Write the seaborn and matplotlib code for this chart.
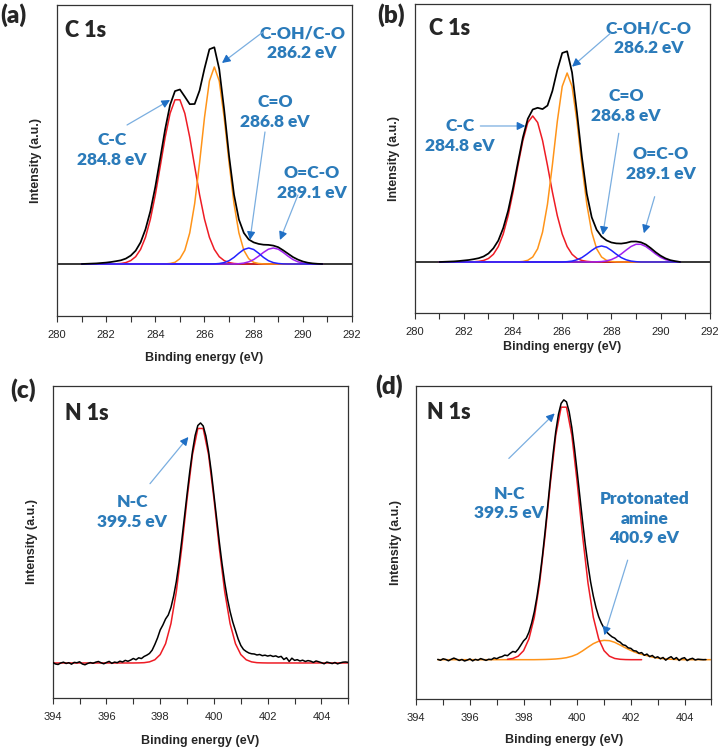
import numpy as np
import matplotlib
matplotlib.use("Agg")
import matplotlib.pyplot as plt
from matplotlib.ticker import MultipleLocator
import seaborn as sns

# ---------------- data (intensity in a.u., baseline = 0) ----------------
# C 1s panels: components and envelope on a 0.2 eV grid starting at 281.0 eV
c1s_start, c1s_step = 281.0, 0.2

# (a)
a_envelope = [0, 0.2, 0.4, 0.6, 1.0, 1.4, 2.0, 2.8, 3.7, 5.4,
              8.4, 13.3, 21.6, 34.7, 52.9, 77.2, 105.7, 134.8, 159.1, 172.9,
              174.5, 167.3, 159.8, 160, 173.5, 195.4, 214.7, 216.7, 194.8, 154.3,
              108, 69.4, 44.4, 31.1, 24.5, 21.6, 20.1, 19.3, 19.1, 18.4,
              16.8, 13.7, 10.3, 6.9, 4.4, 2.5, 1.3, 0.6, 0.2, 0]
a_cc = [0, 0, 0, 0, 0, 0, 0, 0.2, 0.5, 1.4,
        3.4, 7.3, 14.6, 26.7, 44.9, 69.2, 97.7, 126.7, 150.6, 164.2,
        164.2, 150.6, 126.7, 97.7, 69.2, 44.9, 26.7, 14.6, 7.3, 3.4,
        1.4, 0.5, 0.2, 0, 0, 0, 0, 0, 0, 0,
        0, 0, 0, 0, 0, 0, 0, 0, 0, 0]
a_coh = [0, 0, 0, 0, 0, 0, 0, 0, 0, 0,
         0, 0, 0, 0, 0, 0, 0, 0.1, 0.5, 1.7,
         5.3, 13.7, 31.1, 60.3, 101.3, 146.5, 183, 197, 183, 146.5,
         101.3, 60.3, 31.1, 13.7, 5.3, 1.7, 0.5, 0.1, 0, 0,
         0, 0, 0, 0, 0, 0, 0, 0, 0, 0]
a_co = [0, 0, 0, 0, 0, 0, 0, 0, 0, 0,
        0, 0, 0, 0, 0, 0, 0, 0, 0, 0,
        0, 0, 0, 0, 0, 0, 0, 0.1, 0.5, 1.4,
        3.3, 6.6, 10.8, 14.5, 16, 14.5, 10.8, 6.6, 3.3, 1.4,
        0.5, 0.1, 0, 0, 0, 0, 0, 0, 0, 0]
a_oco = [0, 0, 0, 0, 0, 0, 0, 0, 0, 0,
         0, 0, 0, 0, 0, 0, 0, 0, 0, 0,
         0, 0, 0, 0, 0, 0, 0, 0, 0, 0,
         0, 0, 0.3, 0.9, 2.2, 4.4, 7.8, 11.6, 14.8, 16,
         14.8, 11.6, 7.8, 4.4, 2.2, 0.9, 0.3, 0, 0, 0]

# (b)
b_envelope = [0, 0.2, 0.4, 0.6, 1.0, 1.5, 2.0, 2.8, 3.8, 5.5,
              8.5, 13.7, 21.4, 33.9, 51.3, 74.0, 99.7, 124.5, 143.2, 152.5,
              154.2, 152.9, 156.4, 171, 192, 209, 210.7, 189.5, 149.3, 105,
              68.2, 44.7, 32.2, 25.4, 21.6, 19.5, 18.6, 18.4, 19.1, 20.4,
              20.5, 19.7, 17.5, 13.9, 9.8, 6.3, 3.6, 1.8, 0.8, 0]
b_cc = [0, 0, 0, 0, 0, 0, 0, 0.2, 0.6, 1.5,
        3.5, 7.7, 15.4, 27.9, 46.3, 70.0, 96.6, 121.5, 139.5, 146,
        139.5, 121.5, 96.6, 70.0, 46.3, 27.9, 15.4, 7.7, 3.5, 1.5,
        0.6, 0.2, 0, 0, 0, 0, 0, 0, 0, 0,
        0, 0, 0, 0, 0, 0, 0, 0, 0, 0]
b_coh = [0, 0, 0, 0, 0, 0, 0, 0, 0, 0,
         0, 0, 0, 0, 0, 0, 0.1, 0.5, 1.7, 5.0,
         13.2, 29.9, 57.8, 97.1, 140.6, 175.6, 189, 175.6, 140.6, 97.1,
         57.8, 29.9, 13.2, 5.0, 1.7, 0.5, 0.1, 0, 0, 0,
         0, 0, 0, 0, 0, 0, 0, 0, 0, 0]
b_co = [0, 0, 0, 0, 0, 0, 0, 0, 0, 0,
        0, 0, 0, 0, 0, 0, 0, 0, 0, 0,
        0, 0, 0, 0, 0, 0, 0.3, 0.9, 2.2, 4.4,
        7.8, 11.6, 14.8, 16, 14.8, 11.6, 7.8, 4.4, 2.2, 0.9,
        0.3, 0, 0, 0, 0, 0, 0, 0, 0, 0]
b_oco = [0, 0, 0, 0, 0, 0, 0, 0, 0, 0,
         0, 0, 0, 0, 0, 0, 0, 0, 0, 0,
         0, 0, 0, 0, 0, 0, 0, 0, 0, 0,
         0, 0, 0.2, 0.4, 1.1, 2.4, 4.7, 8.0, 11.9, 15.5,
         17.7, 17.7, 15.5, 11.9, 8.0, 4.7, 2.4, 1.1, 0.4, 0.2]

# (c) N 1s: raw spectrum on 0.1 eV grid from 394.0, fit on 0.2 eV grid from 394.0
c_raw_start, c_raw_step = 394.0, 0.1
c_raw = [0.5, -1.0, -1.5, 0.0, 0.8, -0.5, 0.3, -1.2, 0.6, 0.2,
         1.2, -1.0, -1.8, -0.5, 0.4, -0.3, 0.8, 1.5, 0.2, -0.8,
         0.5, 1.6, -0.4, 0.9, 0.3, 1.8, 1.0, 2.6, 1.7, 2.9,
         4.5, 3.2, 5.2, 4.4, 6.5, 7.8, 9.5, 12.8, 18.5, 25,
         33, 38, 44, 48, 55.5, 67, 81.5, 100, 122, 145.5,
         169, 191.5, 211.5, 227.5, 237.5, 240, 237, 227, 211.5, 191.5,
         168, 144.5, 121, 99.5, 80.5, 64.5, 51.5, 41, 32.5, 24,
         17.5, 13.5, 11.5, 10, 9.2, 9, 8, 8.5, 7.3, 7.8,
         6.9, 7.6, 6.5, 7.1, 5.8, 6.6, 3.5, 5.2, 1.5, 4.8,
         2.6, 3.3, 2.0, 2.8, 1.5, 2.4, 1.8, 0.6, 2.0, 1.2,
         0.3, -0.8, 0.9, 0.2, -0.6, 0.5, -0.9, 0.1, 0.8, 1.0,
         0.6]
c_fit_start, c_fit_step = 394.0, 0.2
c_nc = [0, 0, 0, 0, 0, 0, 0, 0, 0, 0,
        0, 0, 0, 0, 0, 0, 0.1, 0.3, 1.1, 3.2,
        8.4, 19.3, 39.4, 71.4, 114.9, 164.1, 208.2, 234.5, 234.5, 208.2,
        164.1, 114.9, 71.4, 39.4, 19.3, 8.4, 3.2, 1.1, 0.3, 0.1,
        0, 0, 0, 0, 0, 0, 0, 0, 0, 0,
        0, 0, 0, 0, 0, 0]

# (d) N 1s
d_raw_start, d_raw_step = 394.8, 0.1
d_raw = [0.3, -0.6, 0.9, 0.2, -1.1, 0.4, 1.6, 0.5, -0.8, 0.2,
         -1.3, -0.4, 0.8, -1.2, 0.3, -0.5, 1.1, 0.2, -0.7, 0.4,
         0.1, 1.8, 1.0, 2.4, 3.1, 4.6, 4.0, 6.3, 8.2, 7.5,
         10.5, 14.6, 18.8, 21.5, 27.5, 36.5, 48, 63, 81.3, 103,
         127.6, 153.8, 180.5, 205.7, 228, 245, 256, 259.5, 257.5, 247.5,
         231.5, 210.5, 187, 162.5, 138, 115, 95, 77.5, 63.5, 52,
         43, 36.5, 31.5, 27.5, 25, 22.8, 21.5, 18.8, 17.5, 14.9,
         14.2, 11.8, 11.3, 9.0, 8.6, 6.4, 7.1, 4.4, 5.6, 3.1,
         4.2, 1.8, 2.9, 0.9, 2.2, -0.5, 1.6, 3.0, 0.4, 2.1,
         -0.8, 1.2, 2.0, -0.9, 0.6, 1.4, -0.3, 0.5, 0.2, 0.0,
         0.1]
d_nc_start, d_nc_step = 397.4, 0.2
d_nc = [0.4, 1.2, 3.5, 9.0, 20.8, 42.4, 76.8, 123.6, 176.6, 224,
        252.2, 252.2, 224, 176.6, 123.6, 76.8, 42.4, 20.8, 9.0, 3.5,
        1.2, 0.4, 0.1, 0, 0, 0]
d_prot_start, d_prot_step = 394.8, 0.2
d_prot = [0, 0, 0, 0, 0, 0, 0, 0, 0, 0,
          0, 0, 0, 0, 0, 0, 0, 0, 0, 0.1,
          0.2, 0.4, 0.7, 1.2, 2.0, 3.4, 5.5, 8.8, 12.5, 16.0,
          18.4, 19.3, 19.0, 17.3, 14.6, 11.8, 9.2, 7.0, 5.3, 4.0,
          2.6, 1.6, 1.0, 0.6, 0.3, 0.1, 0, 0, 0, 0,
          0, 0]


def grid(start, step, vals):
    return start + step * np.arange(len(vals))


# ---------------- style ----------------
sns.set_style("ticks")
plt.rcParams['font.family'] = ['Liberation Sans', 'DejaVu Sans']

BLACK = '#000000'
RED = '#ee1c25'
ORANGE = '#ff9419'
BLUE = '#2222ff'
PURPLE = '#a020f0'
TXT = '#2b7bba'
SHAFT = '#7aaee0'
HEAD = '#1f6fc5'
BOLD = ['Lato', 'DejaVu Sans']
ANN = dict(ha='center', va='center', color=TXT, fontsize=12.5, fontweight='heavy',
           family=BOLD, linespacing=1.3)

fig = plt.figure(figsize=(7.24, 7.54), dpi=100)
ax_a = fig.add_axes([0.0787, 0.5809, 0.4075, 0.4125])
ax_b = fig.add_axes([0.5728, 0.5849, 0.4075, 0.4098])
ax_c = fig.add_axes([0.0728, 0.0743, 0.4083, 0.4138])
ax_d = fig.add_axes([0.5750, 0.0733, 0.4075, 0.4143])


def line(ax, x, y, color, lw=1.1, z=2):
    sns.lineplot(x=x, y=y, ax=ax, color=color, linewidth=lw, sort=False, zorder=z)


def style(ax, xlim, ylim, label_off):
    ax.set_xlim(xlim)
    ax.set_ylim(ylim)
    ax.set_xticks(np.arange(xlim[0], xlim[1] + 0.1, 2))
    ax.xaxis.set_minor_locator(MultipleLocator(1))
    ax.tick_params(axis='x', which='both', direction='out', length=4, width=0.8,
                   pad=6, labelsize=8, color='#333333')
    ax.tick_params(axis='y', left=False, labelleft=False)
    for s in ax.spines.values():
        s.set_color('#333333')
        s.set_linewidth(0.9)
    ax.set_xlabel('Binding energy (eV)', fontsize=9, fontweight='bold')
    ax.xaxis.set_label_coords(0.5, -label_off)
    ax.set_ylabel('Intensity (a.u.)', fontsize=9, fontweight='bold')
    ax.yaxis.set_label_coords(-0.05, 0.5)


def arrow(ax, tail, head):
    # light thin shaft, darker filled head
    t = ax.transData.transform(tail)
    h = ax.transData.transform(head)
    d = (h - t) / np.hypot(*(h - t))
    mid = ax.transData.inverted().transform(h - 7 * d)
    ax.annotate('', xy=mid, xytext=tail,
                arrowprops=dict(arrowstyle='-', color=SHAFT, lw=0.9, shrinkA=0, shrinkB=0))
    ax.annotate('', xy=head, xytext=mid,
                arrowprops=dict(arrowstyle='-|>', color=HEAD, lw=0.9,
                                mutation_scale=12, shrinkA=0, shrinkB=0))


# (a)
xa = grid(c1s_start, c1s_step, a_envelope)
ax_a.axhline(0, color=BLACK, lw=1.1, zorder=1)
line(ax_a, xa, a_cc, RED)
line(ax_a, xa, a_coh, ORANGE)
line(ax_a, xa, a_oco, PURPLE)
line(ax_a, xa, a_co, BLUE)
line(ax_a, xa, a_envelope, BLACK, 1.25, 3)
style(ax_a, (280, 292), (-52, 259), 0.116)
ax_a.text(282.24, 114, 'C-C\n284.8 eV', **ANN)
ax_a.text(289.97, 221, 'C-OH/C-O\n286.2 eV', **ANN)
ax_a.text(288.87, 152, 'C=O\n286.8 eV', **ANN)
ax_a.text(290.37, 81, 'O=C-O\n289.1 eV', **ANN)
arrow(ax_a, (282.85, 139), (284.6, 164))
arrow(ax_a, (288.38, 232), (286.71, 201))
arrow(ax_a, (288.46, 132), (287.85, 24))
arrow(ax_a, (289.8, 69), (289.07, 24))

# (b)
xb = grid(c1s_start, c1s_step, b_envelope)
ax_b.axhline(0, color=BLACK, lw=1.1, zorder=1)
line(ax_b, xb, b_cc, RED)
line(ax_b, xb, b_coh, ORANGE)
line(ax_b, xb, b_oco, PURPLE)
line(ax_b, xb, b_co, BLUE)
line(ax_b, xb, b_envelope, BLACK, 1.25, 3)
style(ax_b, (280, 292), (-51, 258), 0.09)
ax_b.text(281.84, 126, 'C-C\n284.8 eV', **ANN)
ax_b.text(289.52, 224, 'C-OH/C-O\n286.2 eV', **ANN)
ax_b.text(288.6, 156, 'C=O\n286.8 eV', **ANN)
ax_b.text(290.02, 98, 'O=C-O\n289.1 eV', **ANN)
arrow(ax_b, (282.67, 136), (284.5, 136))
arrow(ax_b, (287.96, 228.7), (286.4, 195.3))
arrow(ax_b, (288.3, 128.7), (287.65, 27))
arrow(ax_b, (289.76, 65.3), (289.32, 28.7))

# (c)
line(ax_c, grid(c_fit_start, c_fit_step, c_nc), c_nc, RED, 1.1, 2)
line(ax_c, grid(c_raw_start, c_raw_step, c_raw), c_raw, BLACK, 1.1, 3)
style(ax_c, (394, 405), (-35, 277), 0.118)
ax_c.text(396.96, 151, 'N-C\n399.5 eV', **ANN)
arrow(ax_c, (397.62, 179.3), (399.05, 226))

# (d)
line(ax_d, grid(d_prot_start, d_prot_step, d_prot), d_prot, ORANGE, 1.1, 2)
line(ax_d, grid(d_nc_start, d_nc_step, d_nc), d_nc, RED, 1.1, 2)
line(ax_d, grid(d_raw_start, d_raw_step, d_raw), d_raw, BLACK, 1.1, 3)
style(ax_d, (394, 405), (-39, 273), 0.113)
ax_d.text(397.47, 156, 'N-C\n399.5 eV', **ANN)
ax_d.text(402.5, 141, 'Protonated\namine\n400.9 eV', **ANN)
arrow(ax_d, (397.45, 201), (399.16, 246))
arrow(ax_d, (401.88, 99.4), (401.01, 24.4))

# panel tags and core-level names
TAG = dict(ha='left', va='top', fontsize=17.5, fontweight='heavy', family=BOLD)
fig.text(0.001, 0.995, '(a)', **TAG)
fig.text(0.521, 0.995, '(b)', **TAG)
fig.text(0.014, 0.498, '(c)', **TAG)
fig.text(0.518, 0.504, '(d)', **TAG)
for ax, x0, y0, s in [(ax_a, 0.027, 0.952, 'C 1s'), (ax_b, 0.047, 0.955, 'C 1s'),
                      (ax_c, 0.042, 0.946, 'N 1s'), (ax_d, 0.036, 0.951, 'N 1s')]:
    ax.text(x0, y0, s, ha='left', va='top', fontsize=15.5, fontweight='heavy',
            family=BOLD, transform=ax.transAxes)

fig.savefig('out.png', dpi=100)
